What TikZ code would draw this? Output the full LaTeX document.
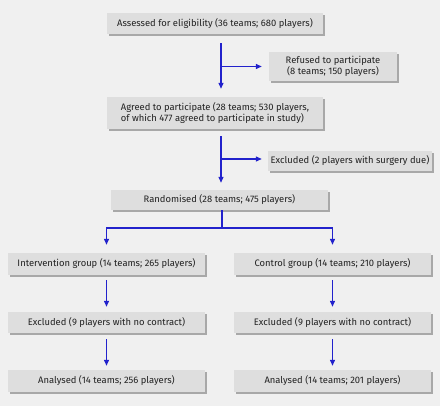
\documentclass[tikz,border=0pt]{standalone}
\usepackage{fontspec}
\setmainfont{Fira Sans}
\usetikzlibrary{arrows.meta,shadows}
\definecolor{bgc}{HTML}{F0F0F0}
\definecolor{boxc}{HTML}{DEDEDE}
\definecolor{shc}{HTML}{A8A8A8}
\definecolor{arc}{HTML}{2222CC}
\definecolor{txt}{HTML}{222222}
\tikzset{
  box/.style={fill=boxc, inner sep=0pt, text=txt, font=\fontsize{9.4}{11.5}\selectfont,
    drop shadow={shadow xshift=1.6pt, shadow yshift=-1.6pt, fill=shc, opacity=1}},
  arr/.style={draw=arc, line width=1.3pt, -{Triangle[length=6pt,width=5pt]}},
  ln/.style={draw=arc, line width=1.3pt},
}
\begin{document}
\begin{tikzpicture}[x=1pt,y=-1pt]
\fill[bgc] (0,0) rectangle (440,406);
\useasboundingbox (0,0) rectangle (440,406);
\node[box, minimum width=216pt, minimum height=21pt] (b1) at (215,23.5) {Assessed for eligibility (36 teams; 680 players)};
\node[box, minimum width=128pt, minimum height=29pt, align=center] (ref) at (333,66.5) {Refused to participate\\(8 teams; 150 players)};
\node[box, minimum width=216pt, minimum height=32pt, align=left] (b2) at (215,113) {Agreed to participate (28 teams; 530 players,\\of which 477 agreed to participate in study)};
\node[box, minimum width=164pt, minimum height=20pt] (ex1) at (350,161) {Excluded (2 players with surgery due)};
\node[box, minimum width=217pt, minimum height=20pt] (rand) at (219.5,200) {Randomised (28 teams; 475 players)};
\node[box, minimum width=197pt, minimum height=22pt] (intv) at (106.5,264) {Intervention group (14 teams; 265 players)};
\node[box, minimum width=197pt, minimum height=22pt] (ctl) at (332.5,264) {Control group (14 teams; 210 players)};
\node[box, minimum width=197pt, minimum height=21pt] (exl) at (106.5,322.5) {Excluded (9 players with no contract)};
\node[box, minimum width=197pt, minimum height=21pt] (exr) at (332.5,322.5) {Excluded (9 players with no contract)};
\node[box, minimum width=197pt, minimum height=22pt] (anl) at (106.5,381) {Analysed (14 teams; 256 players)};
\node[box, minimum width=197pt, minimum height=22pt] (anr) at (332.5,381) {Analysed (14 teams; 201 players)};
% top arrows
\draw[arr, shorten <=9pt, shorten >=8pt] ([xshift=6pt]b1.south) -- ([xshift=6pt]b2.north);
\draw[arr, shorten >=7pt] ([xshift=6pt]b1.south |- ref.west) -- (ref.west);
\draw[arr, shorten <=7pt, shorten >=7pt] ([xshift=6pt]b2.south) -- ([xshift=6pt]b2.south |- rand.north);
\draw[arr, shorten >=6pt] ([xshift=6pt,yshift=2pt]b2.south |- ex1.west) -- ([yshift=2pt]ex1.west);
% split
\coordinate (split) at (222,228);
\draw[ln] (rand.south -| split) -- (split);
\draw[arr, shorten >=8pt] (split) -| (intv.north);
\draw[arr, shorten >=8pt] (split) -| (ctl.north);
% lower arrows
\draw[arr, shorten <=5pt, shorten >=5pt] (intv.south) -- (exl.north);
\draw[arr, shorten <=6pt, shorten >=4pt] (exl.south) -- (anl.north);
\draw[arr, shorten <=5pt, shorten >=5pt] (ctl.south) -- (exr.north);
\draw[arr, shorten <=6pt, shorten >=4pt] (exr.south) -- (anr.north);
\end{tikzpicture}
\end{document}
